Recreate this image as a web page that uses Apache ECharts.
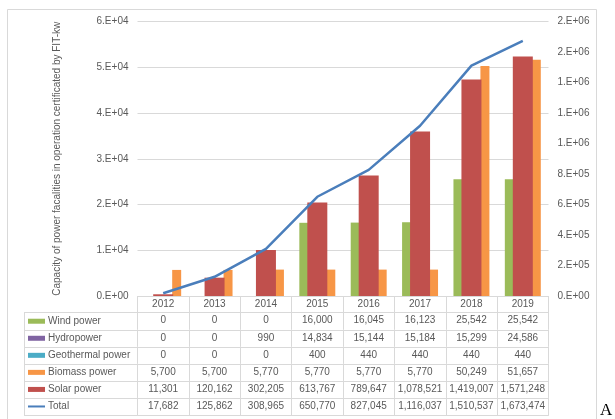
<!DOCTYPE html>
<html>
<head>
<meta charset="utf-8">
<script src="https://cdn.jsdelivr.net/npm/echarts@6/dist/echarts.min.js"></script>
<style>html,body{margin:0;padding:0;background:#fff}#c{width:615px;height:419px}</style>
</head>
<body>
<div id="c"></div>
<script>
const categories = ['2012','2013','2014','2015','2016','2017','2018','2019'];
const wind = [0,0,0,16000,16045,16123,25542,25542];
const hydro = [0,0,990,14834,15144,15184,15299,24586];
const geothermal = [0,0,0,400,440,440,440,440];
const biomass = [5700,5700,5770,5770,5770,5770,50249,51657];
const solar = [11301,120162,302205,613767,789647,1078521,1419007,1571248];
const total = [17682,125862,308965,650770,827045,1116037,1510537,1673474];
const seriesNames = ['Wind power','Hydropower','Geothermal power','Biomass power','Solar power','Total'];
const leftAxis = {min:0, max:60000, interval:10000};
const rightAxis = {min:0, max:1800000, interval:200000};

const colors = {wind:'#9BBB59', hydro:'#8064A2', geo:'#4BACC6', bio:'#F79646', solar:'#C0504D', total:'#4A7EBB'};
const gridColor = '#D9D9D9';
const textColor = '#595959';
const font = 'Liberation Sans';

function sci(v){
  if (v === 0) return '0.E+00';
  let e = Math.floor(Math.log10(v));
  let m = Math.round(v/Math.pow(10,e));
  if (m === 10){m = 1; e++;}
  return m + '.E+' + (e<10?'0':'') + e;
}
const fmt = v => v.toLocaleString('en-US');
const rows = [wind, hydro, geothermal, biomass, solar, total];

const headerH = 16.7, rowH = 17.05;
const rowAxes = rows.map((arr, k) => ({
  type:'category', gridIndex:0, data:categories, position:'bottom',
  offset: headerH + k*rowH,
  axisLine:{show:true, lineStyle:{color:gridColor, width:1}},
  axisTick:{show:true, length:rowH, lineStyle:{color:gridColor}},
  axisLabel:{show:true, interval:0, hideOverlap:false, margin:3, fontSize:10, fontFamily:font, color:textColor,
    formatter:(v, i) => fmt(arr[i])},
  splitLine:{show:false}
}));
const bottomLineAxis = {
  type:'category', gridIndex:0, data:categories, position:'bottom',
  offset: headerH + 6*rowH,
  axisLine:{show:true, lineStyle:{color:gridColor}},
  axisTick:{show:false}, axisLabel:{show:false}
};

const chart = echarts.init(document.getElementById('c'), null, {renderer:'canvas'});
chart.setOption({
  backgroundColor:'#fff',
  animation:false,
  textStyle:{fontFamily:font},
  grid:[
    {left:137.5, right:66.5, top:21.5, bottom:123, outerBoundsMode:'none'},
    {left:24, width:113.5, top:296+headerH, height:6*rowH, outerBoundsMode:'none'}
  ],
  legend:{
    orient:'vertical', left:27, top:296+headerH+rowH/2-6, padding:0,
    itemWidth:17, itemHeight:5, itemGap:rowH-12,
    data:seriesNames.map(n => n==='Total'
      ? {name:n, itemStyle:{opacity:0}, lineStyle:{width:2, color:colors.total}}
      : {name:n, icon:'rect'}),
    textStyle:{fontSize:10, color:textColor, fontFamily:font, lineHeight:12, padding:[0,0,0,-2]},
    selectedMode:false
  },
  xAxis:[
    {type:'category', gridIndex:0, data:categories, position:'bottom',
     axisLine:{show:true, lineStyle:{color:gridColor}},
     axisTick:{show:true, length:headerH, lineStyle:{color:gridColor}},
     axisLabel:{interval:0, margin:3, fontSize:10, fontFamily:font, color:textColor}},
    {type:'category', gridIndex:0, data:categories, show:false},
    ...rowAxes,
    bottomLineAxis,
    {type:'value', gridIndex:1, show:false}
  ],
  yAxis:[
    {type:'value', gridIndex:0, position:'left', min:leftAxis.min, max:leftAxis.max, interval:leftAxis.interval,
     axisLine:{show:false}, axisTick:{show:false},
     axisLabel:{margin:9, fontSize:10, fontFamily:font, color:textColor, formatter:sci},
     splitLine:{show:true, lineStyle:{color:gridColor}},
     name:'Capacity of power facalities in operation certificated by FIT-kw',
     nameLocation:'middle', nameGap:75, nameRotate:90,
     nameTextStyle:{fontSize:10, fontFamily:font, color:textColor}},
    {type:'value', gridIndex:0, position:'right', min:rightAxis.min, max:rightAxis.max, interval:rightAxis.interval,
     axisLine:{show:false}, axisTick:{show:false},
     axisLabel:{margin:9, fontSize:10, fontFamily:font, color:textColor, formatter:sci},
     splitLine:{show:false}},
    {type:'category', gridIndex:1, data:seriesNames, inverse:true,
     axisLine:{show:true, lineStyle:{color:gridColor}},
     axisTick:{show:false}, axisLabel:{show:false},
     splitLine:{show:true, lineStyle:{color:gridColor}}}
  ],
  series:[
    {name:'Wind power', type:'bar', xAxisIndex:0, yAxisIndex:0, data:wind, itemStyle:{color:colors.wind}, barGap:'0%', barCategoryGap:'30%'},
    {name:'Hydropower', type:'bar', xAxisIndex:0, yAxisIndex:0, data:hydro, itemStyle:{color:colors.hydro}, barGap:'0%', barCategoryGap:'30%'},
    {name:'Geothermal power', type:'bar', xAxisIndex:0, yAxisIndex:0, data:geothermal, itemStyle:{color:colors.geo}, barGap:'0%', barCategoryGap:'30%'},
    {name:'Biomass power', type:'bar', xAxisIndex:0, yAxisIndex:0, data:biomass, itemStyle:{color:colors.bio}, barGap:'0%', barCategoryGap:'30%'},
    {name:'Solar power', type:'bar', xAxisIndex:1, yAxisIndex:1, data:solar, itemStyle:{color:colors.solar}, barWidth:20},
    {name:'Total', type:'line', xAxisIndex:0, yAxisIndex:1, data:total, showSymbol:false, symbol:'none',
     lineStyle:{color:colors.total, width:2.5}, itemStyle:{color:colors.total}, z:5}
  ],
  graphic:[
    {type:'rect', shape:{x:7.5, y:9.5, width:589, height:420}, style:{fill:null, stroke:'#D9D9D9', lineWidth:1}, silent:true},
    {type:'text', left:600, top:402, style:{text:'A', font:'17px "Liberation Serif"', fill:'#000'}}
  ]
});
</script>
</body>
</html>
